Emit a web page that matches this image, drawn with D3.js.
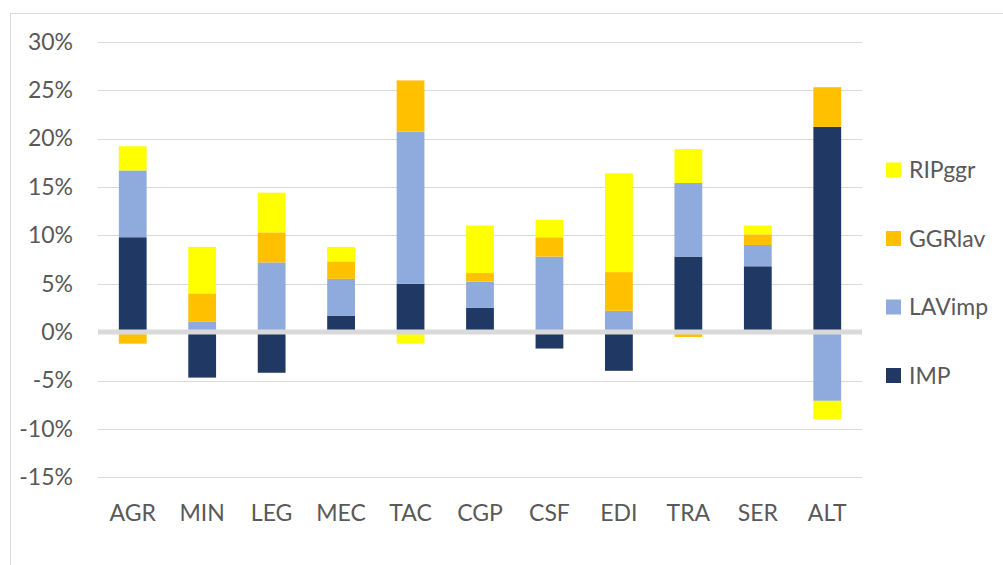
<!DOCTYPE html>
<html>
<head>
<meta charset="utf-8">
<script src="https://cdn.jsdelivr.net/npm/d3@7"></script>
<style>
  body { margin: 0; background: #fff; }
  text { font-family: Lato, "Liberation Sans", sans-serif; fill: #595959; }
</style>
</head>
<body>
<div id="chart"></div>
<script>
// data (values in %)
var categories = ["AGR", "MIN", "LEG", "MEC", "TAC", "CGP", "CSF", "EDI", "TRA", "SER", "ALT"];
var seriesNames = ["IMP", "LAVimp", "GGRlav", "RIPggr"];
var seriesColors = ["#203864", "#8FAADC", "#FFC000", "#FFFF00"];

var IMP    = [9.8, -4.7, -4.2, 1.7, 5.0, 2.5, -1.7, -4.0, 7.8, 6.8, 21.2];
var LAVimp = [6.9, 1.1, 7.2, 3.8, 15.7, 2.7, 7.8, 2.2, 7.6, 2.2, -7.1];
var GGRlav = [-1.2, 2.9, 3.1, 1.8, 5.3, 0.9, 2.0, 4.0, -0.5, 1.1, 4.1];
var RIPggr = [2.5, 4.8, 4.1, 1.5, -1.2, 4.9, 1.8, 10.2, 3.5, 0.9, -1.9];

var yTicks = [-15, -10, -5, 0, 5, 10, 15, 20, 25, 30];

var width = 1003, height = 565;
var plot = {left: 98, right: 862, top: 41.7, bottom: 477.3};

var svg = d3.select("#chart").append("svg")
    .attr("width", width)
    .attr("height", height);

// chart border
svg.append("rect")
    .attr("x", 10.5)
    .attr("y", 13.5)
    .attr("width", 1000)
    .attr("height", 600)
    .attr("fill", "none")
    .attr("stroke", "#d9d9d9")
    .attr("stroke-width", 1);

var x = d3.scaleBand()
    .domain(categories)
    .range([plot.left, plot.right])
    .paddingInner(0.6)
    .paddingOuter(0.3);

var y = d3.scaleLinear()
    .domain([-15, 30])
    .range([plot.bottom, plot.top]);

// gridlines
svg.append("g")
    .selectAll("line")
    .data(yTicks.filter(function(d) { return d !== 0; }))
    .join("line")
    .attr("x1", plot.left)
    .attr("x2", plot.right)
    .attr("y1", function(d) { return Math.round(y(d)) + 0.5; })
    .attr("y2", function(d) { return Math.round(y(d)) + 0.5; })
    .attr("stroke", "#d9d9d9")
    .attr("stroke-width", 1);

// y axis labels
var yAxis = svg.append("g")
    .attr("transform", "translate(" + plot.left + ",0)")
    .call(d3.axisLeft(y).tickValues(yTicks).tickSize(0).tickPadding(25)
        .tickFormat(function(d) { return (d < 0 ? "-" : "") + Math.abs(d) + "%"; }));
yAxis.select(".domain").remove();
yAxis.selectAll("text")
    .style("font-size", "23px")
    .attr("fill", "#595959");

// stacked bars
var rows = categories.map(function(c, i) {
    return {cat: c, IMP: IMP[i], LAVimp: LAVimp[i], GGRlav: GGRlav[i], RIPggr: RIPggr[i]};
});
var stacked = d3.stack()
    .keys(seriesNames)
    .offset(d3.stackOffsetDiverging)(rows);

svg.append("g")
    .selectAll("g")
    .data(stacked)
    .join("g")
    .attr("fill", function(d, i) { return seriesColors[i]; })
    .selectAll("rect")
    .data(function(d) { return d; })
    .join("rect")
    .attr("x", function(d) { return x(d.data.cat); })
    .attr("width", x.bandwidth())
    .attr("y", function(d) { return y(Math.max(d[0], d[1])); })
    .attr("height", function(d) { return Math.abs(y(d[0]) - y(d[1])); });

// zero line over the bars
svg.append("line")
    .attr("x1", plot.left)
    .attr("x2", plot.right)
    .attr("y1", y(0))
    .attr("y2", y(0))
    .attr("stroke", "#d9d9d9")
    .attr("stroke-width", 5);

// x axis labels
var xAxis = svg.append("g")
    .attr("transform", "translate(0,513)")
    .call(d3.axisBottom(x).tickSize(0).tickPadding(0));
xAxis.select(".domain").remove();
xAxis.selectAll("text")
    .attr("dy", "0.35em")
    .style("font-size", "23px")
    .attr("fill", "#595959");

// legend (reverse order, like Excel)
var legend = svg.append("g")
    .selectAll("g")
    .data(seriesNames.slice().reverse())
    .join("g")
    .attr("transform", function(d, i) { return "translate(886," + (170 + i * 68.5) + ")"; });

legend.append("rect")
    .attr("x", 0)
    .attr("y", -7.5)
    .attr("width", 15)
    .attr("height", 15)
    .attr("fill", function(d) { return seriesColors[seriesNames.indexOf(d)]; });

legend.append("text")
    .attr("x", 23)
    .attr("y", 0)
    .attr("dy", "0.35em")
    .style("font-size", "23px")
    .text(function(d) { return d; });
</script>
</body>
</html>
